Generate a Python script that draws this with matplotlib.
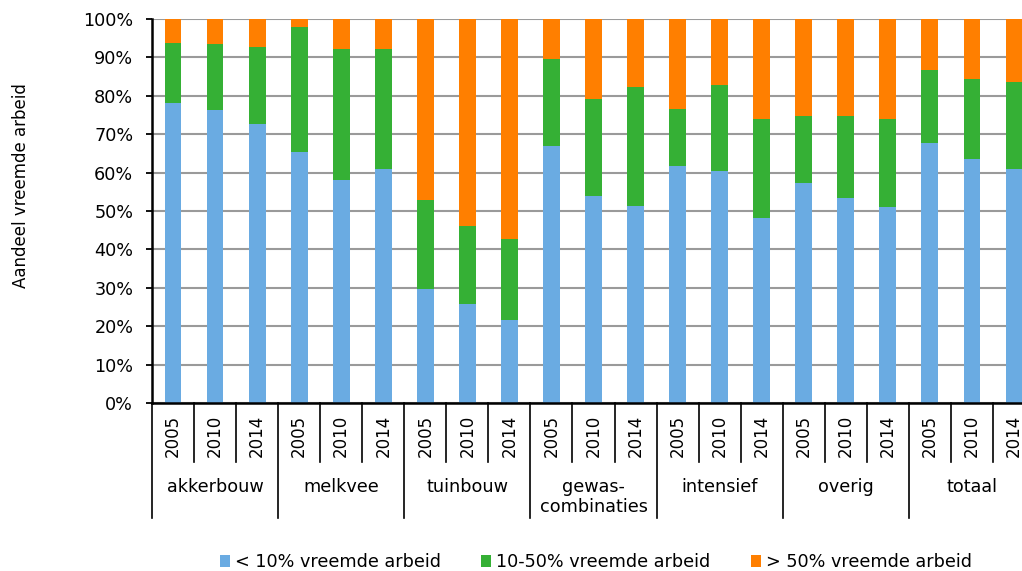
import matplotlib
matplotlib.use("Agg")
import matplotlib.pyplot as plt
from matplotlib.lines import Line2D
from matplotlib.patches import Patch
import numpy as np

groups = ["akkerbouw", "melkvee", "tuinbouw", "gewas-\ncombinaties", "intensief", "overig", "totaal"]
years = ["2005", "2010", "2014"]

# share (%) of farms per class, per group x year
low = [78.1, 76.3, 72.6,
       65.4, 58.0, 61.0,
       29.6, 25.7, 21.7,
       66.9, 53.8, 51.4,
       61.7, 60.3, 48.1,
       57.3, 53.5, 51.0,
       67.7, 63.5, 60.9]
mid = [15.6, 17.1, 20.0,
       32.4, 34.2, 31.2,
       23.3, 20.4, 21.0,
       22.6, 25.3, 30.8,
       14.8, 22.5, 25.9,
       17.5, 21.3, 23.0,
       19.1, 20.8, 22.8]
high = [6.3, 6.6, 7.4,
        2.2, 7.8, 7.8,
        47.1, 53.9, 57.3,
        10.5, 20.9, 17.8,
        23.5, 17.2, 26.0,
        25.2, 25.2, 26.0,
        13.2, 15.7, 16.3]

series_names = ["< 10% vreemde arbeid", "10-50% vreemde arbeid", "> 50% vreemde arbeid"]
colors = ["#6AABE2", "#35B035", "#FF7F00"]

plt.rcParams['font.family'] = ['DejaVu Sans']
plt.rcParams['font.size'] = 12
HFS = 12.7  # horizontal text size
VFS = 12    # rotated text size

fig = plt.figure(figsize=(10.22, 5.71), dpi=100)
ax = fig.add_axes([152/1022, 1-403/571, 883/1022, 384/571])

n = len(low)
x = np.arange(n)
low_a = np.array(low); mid_a = np.array(mid); high_a = np.array(high)
ax.bar(x, low_a, width=0.4, color=colors[0], zorder=3)
ax.bar(x, mid_a, width=0.4, bottom=low_a, color=colors[1], zorder=3)
ax.bar(x, high_a, width=0.4, bottom=low_a + mid_a, color=colors[2], zorder=3)

ax.set_xlim(-0.5, n - 0.5)
ax.set_ylim(0, 100)
ax.set_yticks(np.arange(0, 101, 10))
ax.set_yticklabels([f"{v}%" for v in range(0, 101, 10)])
ax.yaxis.grid(True, color="#9A9A9A", linewidth=1.5, zorder=0)
ax.set_axisbelow(True)
ax.tick_params(axis='y', length=4.5, width=1.3, pad=9, labelsize=HFS, color='black')
ax.set_xticks([])
for s in ['top', 'right']:
    ax.spines[s].set_visible(False)
for s in ['left', 'bottom']:
    ax.spines[s].set_linewidth(1.8)
    ax.spines[s].set_color('black')
ax.spines['bottom'].set_zorder(5)

trans = ax.get_xaxis_transform()
ax_h = 384.0
# separators
for i in range(n + 1):
    is_group = (i % 3 == 0)
    depth = (518 - 403) / ax_h if is_group else (462 - 403) / ax_h
    ax.add_line(Line2D([i - 0.5, i - 0.5], [0, -depth], transform=trans,
                       color='black', linewidth=1.2, clip_on=False))

# year labels
for i in range(n):
    ax.annotate(years[i % 3], xy=(i, 0), xycoords=trans,
                xytext=(0, -12 * 0.72), textcoords='offset points',
                rotation=90, ha='center', va='top', fontsize=VFS)

# group labels
for g, name in enumerate(groups):
    cx = g * 3 + 1
    yc = 497 if "\n" in name else 487
    ax.annotate(name, xy=(cx, 0), xycoords=trans,
                xytext=(0, -(yc - 403) * 0.72), textcoords='offset points',
                ha='center', va='center', fontsize=HFS, linespacing=1.15)

fig.text(21/1022, 1 - 186/571, "Aandeel vreemde arbeid", rotation=90,
         ha='center', va='center', fontsize=VFS)

handles = [Patch(facecolor=c, edgecolor='none') for c in colors]
fig.legend(handles, series_names, loc='center', bbox_to_anchor=(596/1022, 1 - 562/571),
           ncol=3, frameon=False, fontsize=HFS, handlelength=0.55, handleheight=0.65,
           handletextpad=0.3, columnspacing=2.3, borderaxespad=0)

fig.savefig("out.png", dpi=100)
